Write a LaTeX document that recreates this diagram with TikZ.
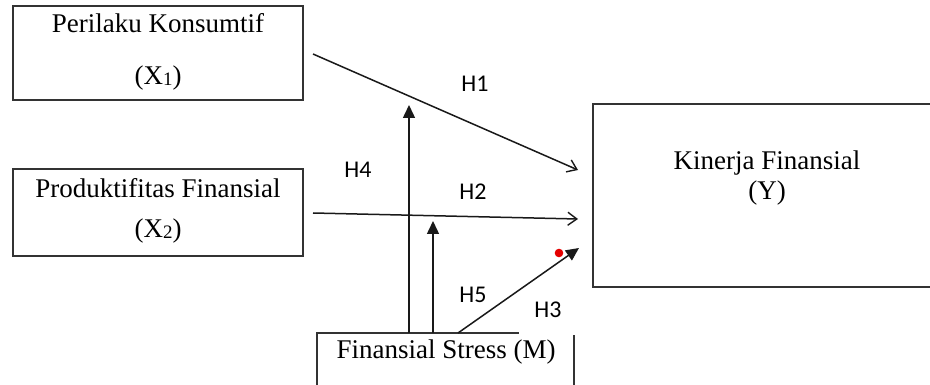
\documentclass[tikz,border=0pt]{standalone}
\usepackage{fontspec}
\setmainfont{Liberation Serif}
\newfontfamily\hfont{Carlito}
\usetikzlibrary{arrows.meta}
\begin{document}
\begin{tikzpicture}[x=1pt,y=-1pt,
  boxline/.style={draw=black!80, line width=1.6pt},
  serif/.style={font=\fontsize{27}{30}\selectfont, anchor=base, inner sep=0pt},
  hlab/.style={font=\hfont\fontsize{24}{26}\selectfont, anchor=base, inner sep=0pt},
  conn/.style={line width=1.5pt, draw=black!90},
  openhead/.style={conn, -{Straight Barb[length=9pt, width=13pt, line width=1.4pt]}},
  filledhead/.style={conn, -{Triangle[length=13pt, width=12pt]}}]
\useasboundingbox (0,0) rectangle (930,385);
\clip (0,0) rectangle (930,385);
\fill[white] (0,0) rectangle (930,385);
% boxes
\node[boxline, rectangle, minimum width=290pt, minimum height=94pt, inner sep=0pt] (x1) at (158,53) {};
\node[boxline, rectangle, minimum width=290pt, minimum height=87pt, inner sep=0pt] (x2) at (158,212.5) {};
\coordinate (yTL) at (593,104);
\coordinate (yBL) at (593,287);
\draw[boxline] (950,104) -- (yTL) -- (yBL) -- (950,287);
\coordinate (mTL) at (317,333);
\coordinate (mTR) at (519,333);
\draw[boxline, line width=1.5pt] (317,400) -- (mTL) -- (mTR);
\draw[boxline, line width=1.5pt] (574,335) -- (574,400);
% texts
\node[serif] (t1) at (158,33) {Perilaku Konsumtif};
\node[serif] (t1b) at (158,85) {(X{\raisebox{-1pt}{\fontsize{19}{20}\selectfont 1}})};
\node[serif] (t2) at (158,197) {Produktifitas Finansial};
\node[serif] (t2b) at (158,237) {(X{\raisebox{-1pt}{\fontsize{19}{20}\selectfont 2}})};
\node[serif] (ty) at (767,170) {Kinerja Finansial};
\node[serif] (tyb) at (767,200) {(Y)};
\node[serif] (tm) at (446,358) {Finansial Stress (M)};
% connector endpoints
\coordinate (h1s) at (313,54);
\coordinate (h1e) at (578,170);
\coordinate (h2s) at (313,213);
\coordinate (h2e) at (578,219);
\coordinate (v1s) at (409,333);
\coordinate (v1e) at (409,105);
\coordinate (v2s) at (433,333);
\coordinate (v2e) at (433,221);
\coordinate (h3s) at (458,333);
\coordinate (h3e) at (579,248);
% connectors
\draw[openhead] (h1s) -- (h1e);
\draw[openhead] (h2s) -- (h2e);
\draw[filledhead] (v1s) -- (v1e);
\draw[filledhead] (v2s) -- (v2e);
\draw[filledhead] (h3s) -- (h3e);
\fill[red!90!black] (559,253) circle (4.3pt);
% labels
\node[hlab] (lh1) at (475,92) {H1};
\node[hlab] (lh4) at (358,178) {H4};
\node[hlab] (lh2) at (473,200) {H2};
\node[hlab] (lh5) at (473,302) {H5};
\node[hlab] (lh3) at (548,317) {H3};
\end{tikzpicture}
\end{document}
